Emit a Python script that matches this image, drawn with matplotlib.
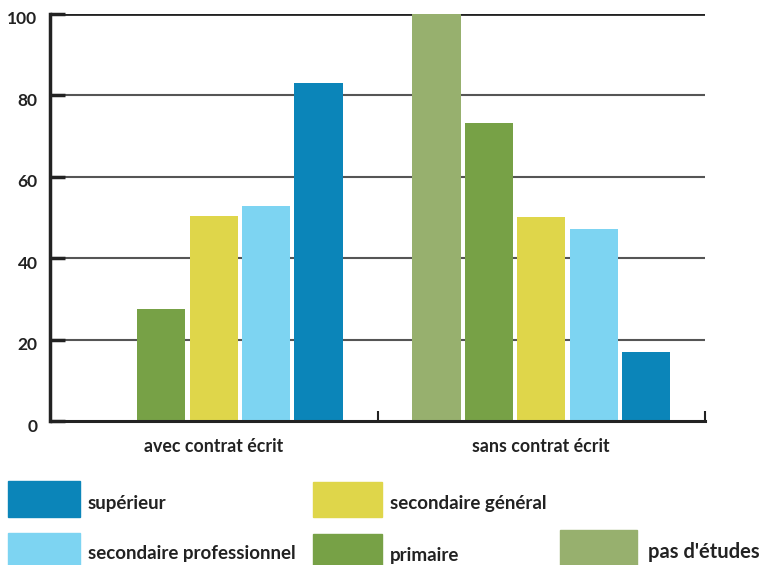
import numpy as np
import matplotlib
matplotlib.use("Agg")
import matplotlib.pyplot as plt
import matplotlib.transforms as mtransforms
from matplotlib.patches import Rectangle

plt.rcParams['font.family'] = ['Lato', 'DejaVu Sans']

categories = ["avec contrat écrit", "sans contrat écrit"]
series = ["pas d'études", "primaire", "secondaire général",
          "secondaire professionnel", "supérieur"]
pas_etudes = [np.nan, 100]
primaire = [27.5, 73.2]
secondaire_general = [50.3, 50.1]
secondaire_professionnel = [52.8, 47.2]
superieur = [83.0, 17.0]
y_ticks = [0, 20, 40, 60, 80, 100]

colors = {
    "pas d'études": "#97B06E",
    "primaire": "#77A146",
    "secondaire général": "#DFD64A",
    "secondaire professionnel": "#7DD4F2",
    "supérieur": "#0B85B9",
}
values = {
    "pas d'études": pas_etudes,
    "primaire": primaire,
    "secondaire général": secondaire_general,
    "secondaire professionnel": secondaire_professionnel,
    "supérieur": superieur,
}

W, H = 765, 565
fig = plt.figure(figsize=(W / 100, H / 100), dpi=100)
ax = fig.add_axes([50 / W, 1 - 421 / H, 655 / W, 407 / H])

centers = np.arange(len(categories)) + 0.5
step = 0.16
width = 0.147
for i, name in enumerate(series):
    ax.bar(centers + (i - 2) * step, values[name], width=width,
           color=colors[name], zorder=3)

ax.set_xlim(0, 2)
ax.set_ylim(0, 100)

# horizontal grid
for y in y_ticks[1:]:
    lw = 2.0 if y == 100 else 1.5
    col = "#222222" if y == 100 else "#555555"
    ax.axhline(y, color=col, lw=lw, zorder=1)

for s in ["top", "right"]:
    ax.spines[s].set_visible(False)
for s in ["left", "bottom"]:
    ax.spines[s].set_color("#222222")
    ax.spines[s].set_zorder(4)
ax.spines["left"].set_linewidth(2.5)
ax.spines["bottom"].set_linewidth(2.2)

ax.set_yticks(y_ticks)
ax.set_yticklabels([str(v) for v in y_ticks], fontsize=12.5, fontweight="bold",
                   color="#222222")
ax.tick_params(axis="y", direction="in", length=11, width=2.5,
               color="#222222", pad=9)
offset = mtransforms.ScaledTranslation(0, -0.04, fig.dpi_scale_trans)
for lab in ax.get_yticklabels():
    lab.set_transform(lab.get_transform() + offset)

ax.set_xticks([1, 2])
ax.set_xticklabels(["", ""])
ax.tick_params(axis="x", which="major", direction="in", length=7, width=1.5,
               color="#222222")
ax.set_xticks(centers, minor=True)
ax.set_xticklabels(categories, minor=True, fontsize=12.8, fontweight="bold",
                   color="#222222")
ax.tick_params(axis="x", which="minor", length=0, pad=12)

# legend laid out in figure pixels
legend_items = [
    ("supérieur", 8, 481, 72, 36, 88, 503, 13.5),
    ("secondaire général", 313, 482, 69, 35, 390, 503, 13.5),
    ("secondaire professionnel", 8, 533, 72, 34, 88, 554, 13.5),
    ("primaire", 313, 534, 69, 33, 390, 556, 13.5),
    ("pas d'études", 560, 530, 77, 37, 648, 552, 14.5),
]
for name, x0, y0, w, h, tx, ty, fs in legend_items:
    fig.patches.append(Rectangle((x0 / W, 1 - (y0 + h) / H), w / W, h / H,
                                 transform=fig.transFigure,
                                 color=colors[name]))
    fig.text(tx / W, 1 - ty / H, name, fontsize=fs, fontweight="bold",
             color="#222222", va="center", ha="left")

fig.savefig("out.png", dpi=100)
